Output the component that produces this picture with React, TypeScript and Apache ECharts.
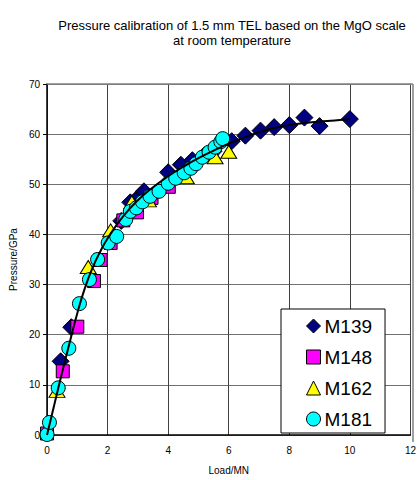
import React, { useEffect, useRef } from "react";
import * as echarts from "echarts";

const titleLines = ["Pressure calibration of 1.5 mm TEL based on the MgO scale", "at room temperature"];
const xTicks = [0, 2, 4, 6, 8, 10, 12];
const yTicks = [0, 10, 20, 30, 40, 50, 60, 70];

const m139Load = [0.45, 0.8, 2.45, 2.75, 3.05, 3.2, 4.0, 4.42, 4.8, 5.2, 5.5, 6.1, 6.55, 7.05, 7.5, 8.0, 8.5, 9.0, 10.0];
const m139Pressure = [14.7, 21.5, 42.7, 46.4, 47.6, 48.6, 52.4, 53.9, 54.8, 55.8, 56.6, 58.6, 59.7, 60.7, 61.4, 61.8, 63.3, 61.6, 63.0];

const m148Load = [0.0, 0.52, 1.0, 1.55, 1.77, 2.1, 2.52, 2.97, 3.45, 4.02];
const m148Pressure = [0.3, 12.7, 21.6, 30.7, 34.9, 38.3, 42.8, 44.4, 47.3, 49.5];

const m162Load = [0.0, 0.33, 1.36, 2.1, 2.8, 3.35, 4.6, 5.55, 6.0];
const m162Pressure = [-0.6, 8.8, 33.5, 40.8, 46.4, 46.8, 51.4, 55.4, 56.5];

const m181Load = [0.0, 0.08, 0.37, 0.72, 1.07, 1.4, 1.67, 2.02, 2.3, 2.6, 2.75, 2.95, 3.15, 3.4, 3.7, 4.0, 4.25, 4.53, 4.75, 4.92, 5.13, 5.35, 5.55, 5.74, 5.8];
const m181Pressure = [0.1, 2.5, 9.4, 17.3, 26.2, 31.0, 35.0, 38.3, 39.6, 43.0, 44.6, 45.3, 46.5, 47.6, 48.6, 50.2, 51.2, 52.3, 53.2, 54.1, 55.4, 56.4, 57.4, 58.5, 59.1];

const fitLoad = [0, 0.25, 0.5, 0.75, 1, 1.25, 1.5, 1.75, 2, 2.5, 3, 3.5, 4, 4.5, 5, 5.5, 6, 6.5, 7, 7.5, 8, 8.5, 9, 9.5, 10];
const fitPressure = [0, 6.3, 12.5, 18.5, 24.3, 29.3, 33.3, 36.5, 39.2, 43.5, 46.8, 49.4, 51.6, 53.5, 55.2, 56.7, 58.1, 59.3, 60.4, 61.2, 61.8, 62.2, 62.5, 62.7, 63.0];

const names = ["M139", "M148", "M162", "M181"];
const colors = ["#000080", "#ff00ff", "#ffff00", "#00ffff"];
const symbols = ["diamond", "rect", "triangle", "circle"];

const zip = (xs: number[], ys: number[]) => xs.map((x, i) => [x, ys[i]]);

export default function App() {
  const ref = useRef<HTMLDivElement>(null);
  useEffect(() => {
    if (!ref.current) return;
    const chart = echarts.init(ref.current, null, { renderer: "svg" });
    const font = "Arial, 'Liberation Sans', sans-serif";
    const dataSets = [
      zip(m139Load, m139Pressure),
      zip(m148Load, m148Pressure),
      zip(m162Load, m162Pressure),
      zip(m181Load, m181Pressure),
    ];
    const sizes: any[] = [[17, 17], 13, [16, 13], 14];
    const scatter = names.map((n, i) => ({
      name: n,
      type: "scatter",
      data: dataSets[i],
      symbol: symbols[i],
      symbolSize: sizes[i],
      itemStyle: { color: colors[i], borderColor: "#000", borderWidth: 1, opacity: 1 },
      z: 2 + i,
    }));
    chart.setOption({
      animation: false,
      backgroundColor: "#fff",
      title: {
        text: titleLines.join("\n"),
        left: 227,
        textAlign: "center",
        top: 13,
        textStyle: { fontFamily: font, fontSize: 13, fontWeight: "normal", color: "#000", lineHeight: 15 },
      },
      grid: { left: 47, right: 6, top: 84, bottom: 38, containLabel: false },
      legend: {
        data: names.map((n, i) => ({ name: n, icon: symbols[i] })),
        orient: "vertical",
        left: 281,
        top: 309,
        padding: [7, 13, 4, 25],
        itemWidth: 14,
        itemHeight: 14,
        itemGap: 11,
        borderColor: "#000",
        borderWidth: 1,
        backgroundColor: "#fff",
        textStyle: { fontFamily: font, fontSize: 19, color: "#000", lineHeight: 20, padding: [0, 0, 0, -1] },
        itemStyle: { borderColor: "#000", borderWidth: 1 },
      },
      xAxis: {
        type: "value",
        min: xTicks[0],
        max: xTicks[xTicks.length - 1],
        interval: 2,
        name: "Load/MN",
        nameLocation: "middle",
        nameGap: 30,
        nameTextStyle: { fontFamily: font, fontSize: 10, color: "#000" },
        axisLine: { onZero: false, lineStyle: { color: "#000", width: 1.5 } },
        axisTick: { show: false },
        axisLabel: { fontFamily: font, fontSize: 10, color: "#000", margin: 10 },
        splitLine: { show: true, lineStyle: { color: "#404040", width: 1 } },
      },
      yAxis: {
        type: "value",
        min: yTicks[0],
        max: yTicks[yTicks.length - 1],
        interval: 10,
        name: "Pressure/GPa",
        nameLocation: "middle",
        nameGap: 23,
        nameTextStyle: { fontFamily: font, fontSize: 10, color: "#000" },
        axisLine: { onZero: false, lineStyle: { color: "#000", width: 1.5 } },
        axisTick: { show: true, inside: false, length: 4, lineStyle: { color: "#000" } },
        axisLabel: { fontFamily: font, fontSize: 10, color: "#000", margin: 7 },
        splitLine: { show: true, lineStyle: { color: "#707070", width: 1 } },
      },
      graphic: [
        { type: "line", shape: { x1: 47, y1: 84, x2: 413, y2: 84 }, style: { stroke: "#808080", lineWidth: 1.5 }, z: 1 },
        { type: "line", shape: { x1: 413, y1: 84, x2: 413, y2: 442 }, style: { stroke: "#808080", lineWidth: 1.5 }, z: 1 },
      ],
      series: [
        ...scatter,
        {
          name: "fit",
          type: "line",
          data: zip(fitLoad, fitPressure),
          smooth: true,
          symbol: "none",
          lineStyle: { color: "#000", width: 2 },
          z: 10,
          silent: true,
        },
      ],
    });
    return () => chart.dispose();
  }, []);
  return <div ref={ref} style={{ width: 419, height: 480, position: "absolute", left: 0, top: 0 }} />;
}
